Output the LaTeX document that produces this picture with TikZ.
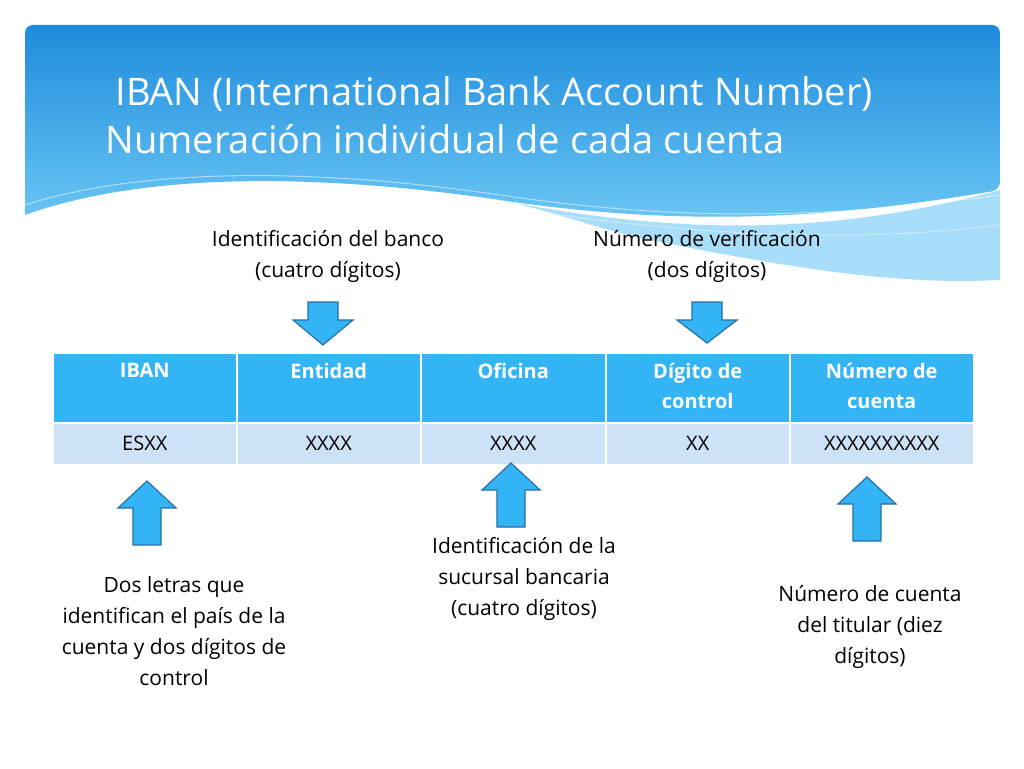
\documentclass[tikz,border=0pt]{standalone}
\usepackage{fontspec}
\setmainfont{Open Sans}
\begin{document}
\begin{tikzpicture}[x=1pt,y=-1pt,
  hdr/.style={fill=hblue,draw=white,line width=1.5pt,text=white,font=\fontsize{20}{24}\selectfont\bfseries,align=center,anchor=north west,inner sep=0pt},
  cell/.style={fill=rowblue,draw=white,line width=1.5pt,font=\fontsize{20}{24}\selectfont,anchor=north west,inner sep=0pt},
  lbl/.style={font=\fontsize{21}{31}\selectfont,align=center},
  arr/.style={fill=hblue,draw=arrline,line width=1.2pt}]
\definecolor{hblue}{RGB}{51,181,245}
\definecolor{rowblue}{RGB}{205,226,247}
\definecolor{arrline}{RGB}{40,110,170}
\definecolor{topblue}{RGB}{30,140,220}
\definecolor{lowblue}{RGB}{110,200,245}
\useasboundingbox (0,0) rectangle (1024,768);
\fill[white] (0,0) rectangle (1024,768);
% header band
\fill[lowblue!60] (500,200) .. controls (700,240) and (850,230) .. (1000,190) -- (1000,280) .. controls (900,285) and (800,270) .. (650,240) .. controls (600,230) and (550,210) .. (500,200) -- cycle;
\shade[top color=topblue,bottom color=lowblue,rounded corners=8pt] (25,215) -- (25,25) -- (1000,25) -- (1000,190) [sharp corners] .. controls (850,215) and (700,230) .. (500,200) .. controls (330,175) and (150,170) .. (25,215) -- cycle;
\draw[white,opacity=0.5,line width=1pt] (25,205) .. controls (150,165) and (330,170) .. (500,195) .. controls (700,225) and (850,215) .. (1000,195);
\draw[white,opacity=0.4,line width=1pt] (400,190) .. controls (600,225) and (800,250) .. (1000,225);
\node[text=white,font=\fontsize{38}{48}\selectfont,align=left,anchor=west] (title) at (102,115) {\ IBAN (International Bank Account Number)\\Numeración individual de cada cuenta};
% table
\node[hdr,minimum width=184pt,minimum height=70pt] (h1) at (52,352) {};
\node[hdr,minimum width=184pt,minimum height=70pt] (h2) at (236,352) {};
\node[hdr,minimum width=185pt,minimum height=70pt] (h3) at (420,352) {};
\node[hdr,minimum width=184pt,minimum height=70pt] (h4) at (605,352) {};
\node[hdr,minimum width=184pt,minimum height=70pt] (h5) at (789,352) {};
\node[text=white,font=\fontsize{20}{30}\selectfont\bfseries,align=center,anchor=north] at (h1.north) [yshift=-8pt] {IBAN};
\node[text=white,font=\fontsize{20}{30}\selectfont\bfseries,align=center,anchor=north] at (h2.north) [yshift=-8pt] {Entidad};
\node[text=white,font=\fontsize{20}{30}\selectfont\bfseries,align=center,anchor=north] at (h3.north) [yshift=-8pt] {Oficina};
\node[text=white,font=\fontsize{20}{30}\selectfont\bfseries,align=center,anchor=north] at (h4.north) [yshift=-8pt] {Dígito de\\control};
\node[text=white,font=\fontsize{20}{30}\selectfont\bfseries,align=center,anchor=north] at (h5.north) [yshift=-8pt] {Número de\\cuenta};
\node[cell,minimum width=184pt,minimum height=42pt] (c1) at (52,422) {ESXX};
\node[cell,minimum width=184pt,minimum height=42pt] (c2) at (236,422) {XXXX};
\node[cell,minimum width=185pt,minimum height=42pt] (c3) at (420,422) {XXXX};
\node[cell,minimum width=184pt,minimum height=42pt] (c4) at (605,422) {XX};
\node[cell,minimum width=184pt,minimum height=42pt] (c5) at (789,422) {XXXXXXXXXX};
% labels
\node[lbl] (l1) at (328,256) {Identificación del banco\\(cuatro dígitos)};
\node[lbl] (l2) at (707,256) {Número de verificación\\(dos dígitos)};
\node[lbl] (l3) at (174,631) {Dos letras que\\identifican el país de la\\cuenta y dos dígitos de\\control};
\node[lbl] (l4) at (524,579) {Identificación de la\\sucursal bancaria\\(cuatro dígitos)};
\node[lbl] (l5) at (870,627) {Número de cuenta\\del titular (diez\\dígitos)};
% arrows
\draw[arr] (308,302) -- (338,302) -- (338,320) -- (353,320) -- (323,345) -- (293,320) -- (308,320) -- cycle;
\draw[arr] (692,302) -- (722,302) -- (722,320) -- (737,320) -- (707,343) -- (677,320) -- (692,320) -- cycle;
\draw[arr] (133,545) -- (161,545) -- (161,508) -- (176,508) -- (147,481) -- (118,508) -- (133,508) -- cycle;
\draw[arr] (497,527) -- (525,527) -- (525,490) -- (540,490) -- (511,463) -- (482,490) -- (497,490) -- cycle;
\draw[arr] (853,541) -- (881,541) -- (881,504) -- (896,504) -- (867,477) -- (838,504) -- (853,504) -- cycle;
\end{tikzpicture}
\end{document}
